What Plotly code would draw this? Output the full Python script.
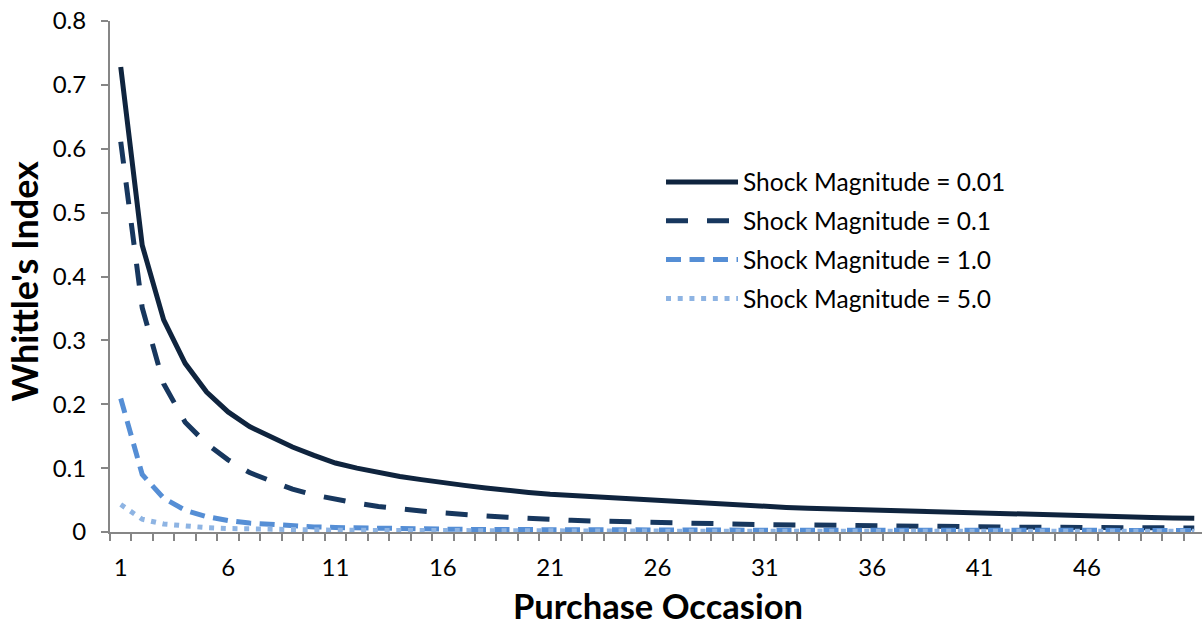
import plotly.graph_objects as go

occasions = list(range(1, 52))

shock_001 = [0.728, 0.449, 0.332, 0.264, 0.219, 0.188, 0.165, 0.148, 0.133, 0.120,
             0.108, 0.100, 0.093, 0.087, 0.082, 0.077, 0.073, 0.069, 0.065, 0.062,
             0.059, 0.057, 0.055, 0.053, 0.051, 0.049, 0.047, 0.045, 0.043, 0.0415,
             0.040, 0.0385, 0.037, 0.036, 0.035, 0.034, 0.033, 0.032, 0.031, 0.030,
             0.029, 0.028, 0.0272, 0.0265, 0.0258, 0.025, 0.0242, 0.0235, 0.0228, 0.0221,
             0.0215]

shock_01 = [0.611, 0.351, 0.232, 0.172, 0.138, 0.113, 0.093, 0.079, 0.067, 0.058,
            0.051, 0.045, 0.040, 0.036, 0.033, 0.030, 0.027, 0.025, 0.023, 0.021,
            0.0195, 0.0183, 0.0172, 0.0162, 0.0154, 0.0146, 0.0139, 0.0133, 0.0127, 0.0121,
            0.0116, 0.0111, 0.0106, 0.0102, 0.0098, 0.0094, 0.0091, 0.0088, 0.0085, 0.0082,
            0.0080, 0.0078, 0.0076, 0.0074, 0.0072, 0.0070, 0.0068, 0.0067, 0.0065, 0.0064,
            0.0063]

shock_10 = [0.209, 0.090, 0.053, 0.034, 0.024, 0.018, 0.014, 0.0115, 0.0095, 0.0080,
            0.0070, 0.0062, 0.0056, 0.0051, 0.0047, 0.0044, 0.0041, 0.0039, 0.0037, 0.0035,
            0.0034, 0.0033, 0.0032, 0.0031, 0.0031, 0.0030, 0.0030, 0.0029, 0.0029, 0.0028,
            0.0028, 0.0028, 0.0027, 0.0027, 0.0027, 0.0027, 0.0026, 0.0026, 0.0026, 0.0026,
            0.0026, 0.0025, 0.0025, 0.0025, 0.0025, 0.0025, 0.0025, 0.0025, 0.0025, 0.0025,
            0.0025]

shock_50 = [0.043, 0.020, 0.0125, 0.0088, 0.0068, 0.0055, 0.0046, 0.0040, 0.0035, 0.0031,
            0.0028, 0.0026, 0.0024, 0.0022, 0.0021, 0.0020, 0.0019, 0.0018, 0.0017, 0.0016,
            0.0016, 0.0015, 0.0015, 0.0014, 0.0014, 0.0014, 0.0013, 0.0013, 0.0013, 0.0012,
            0.0012, 0.0012, 0.0012, 0.0011, 0.0011, 0.0011, 0.0011, 0.0011, 0.0011, 0.0010,
            0.0010, 0.0010, 0.0010, 0.0010, 0.0010, 0.0010, 0.0010, 0.0010, 0.0010, 0.0010,
            0.0010]

series_names = ["Shock Magnitude = 0.01", "Shock Magnitude = 0.1",
                "Shock Magnitude = 1.0", "Shock Magnitude = 5.0"]
series_values = [shock_001, shock_01, shock_10, shock_50]
series_colors = ["#0F243E", "#17375E", "#558ED5", "#8EB4E3"]
series_dash = ["solid", "22px,19px", "15px,8.5px", "5px,6.7px"]

x_ticks = list(range(1, 47, 5))
FONT = "Lato"
AXIS_GRAY = "#868686"

fig = go.Figure()
for i, (name, vals, col, dash) in enumerate(zip(series_names, series_values, series_colors, series_dash)):
    fig.add_trace(go.Scatter(
        x=occasions, y=vals, name=name, mode="lines",
        line=dict(color=col, width=5, dash=dash),
        legendgroup=f"g{i}",
    ))

fig.update_layout(
    width=1202, height=630,
    margin=dict(l=110, r=0, t=21, b=98),
    paper_bgcolor="white", plot_bgcolor="white",
    font=dict(family=FONT, size=24, color="black"),
    showlegend=True,
    legend=dict(
        x=0.5046, y=0.412, xref="paper", yref="paper", xanchor="left", yanchor="bottom",
        itemwidth=72, tracegroupgap=4,
        font=dict(family=FONT, size=24.5, color="black"),
        bgcolor="rgba(0,0,0,0)",
    ),
    xaxis=dict(
        range=[0.5, 51.36], showgrid=False, zeroline=False,
        showline=True, linecolor=AXIS_GRAY, linewidth=2,
        tickmode="array", tickvals=x_ticks, ticktext=[str(v) for v in x_ticks],
        ticks="", ticklabelstandoff=13,
        minor=dict(tickmode="linear", tick0=0.5, dtick=1, ticks="outside",
                   ticklen=7, tickwidth=2, tickcolor=AXIS_GRAY, showgrid=False),
        layer="below traces",
        tickfont=dict(family=FONT, size=24, color="black"),
    ),
    yaxis=dict(
        range=[0, 0.8], showgrid=False, zeroline=False,
        showline=True, linecolor=AXIS_GRAY, linewidth=2,
        tickmode="linear", tick0=0, dtick=0.1,
        ticks="outside", ticklen=7, tickwidth=2, tickcolor=AXIS_GRAY,
        ticklabelstandoff=10,
        layer="below traces",
        tickfont=dict(family=FONT, size=24, color="black"),
    ),
    annotations=[
        dict(text="<b>Purchase Occasion</b>", xref="paper", yref="paper",
             x=(657.5 - 110) / 1092, y=-(605 - 532) / 511, xanchor="center", yanchor="middle",
             showarrow=False, font=dict(family=FONT, size=34.5, color="black")),
        dict(text="<b>Whittle's Index</b>", xref="paper", yref="paper",
             x=-(110 - 24) / 1092, y=(532 - 281.5) / 511, xanchor="center", yanchor="middle",
             textangle=-90, showarrow=False, font=dict(family=FONT, size=36, color="black")),
    ],
)

fig.write_html("out.html", config={"displayModeBar": False},
               post_script="document.body.style.margin='0';window.dispatchEvent(new Event('resize'));")
